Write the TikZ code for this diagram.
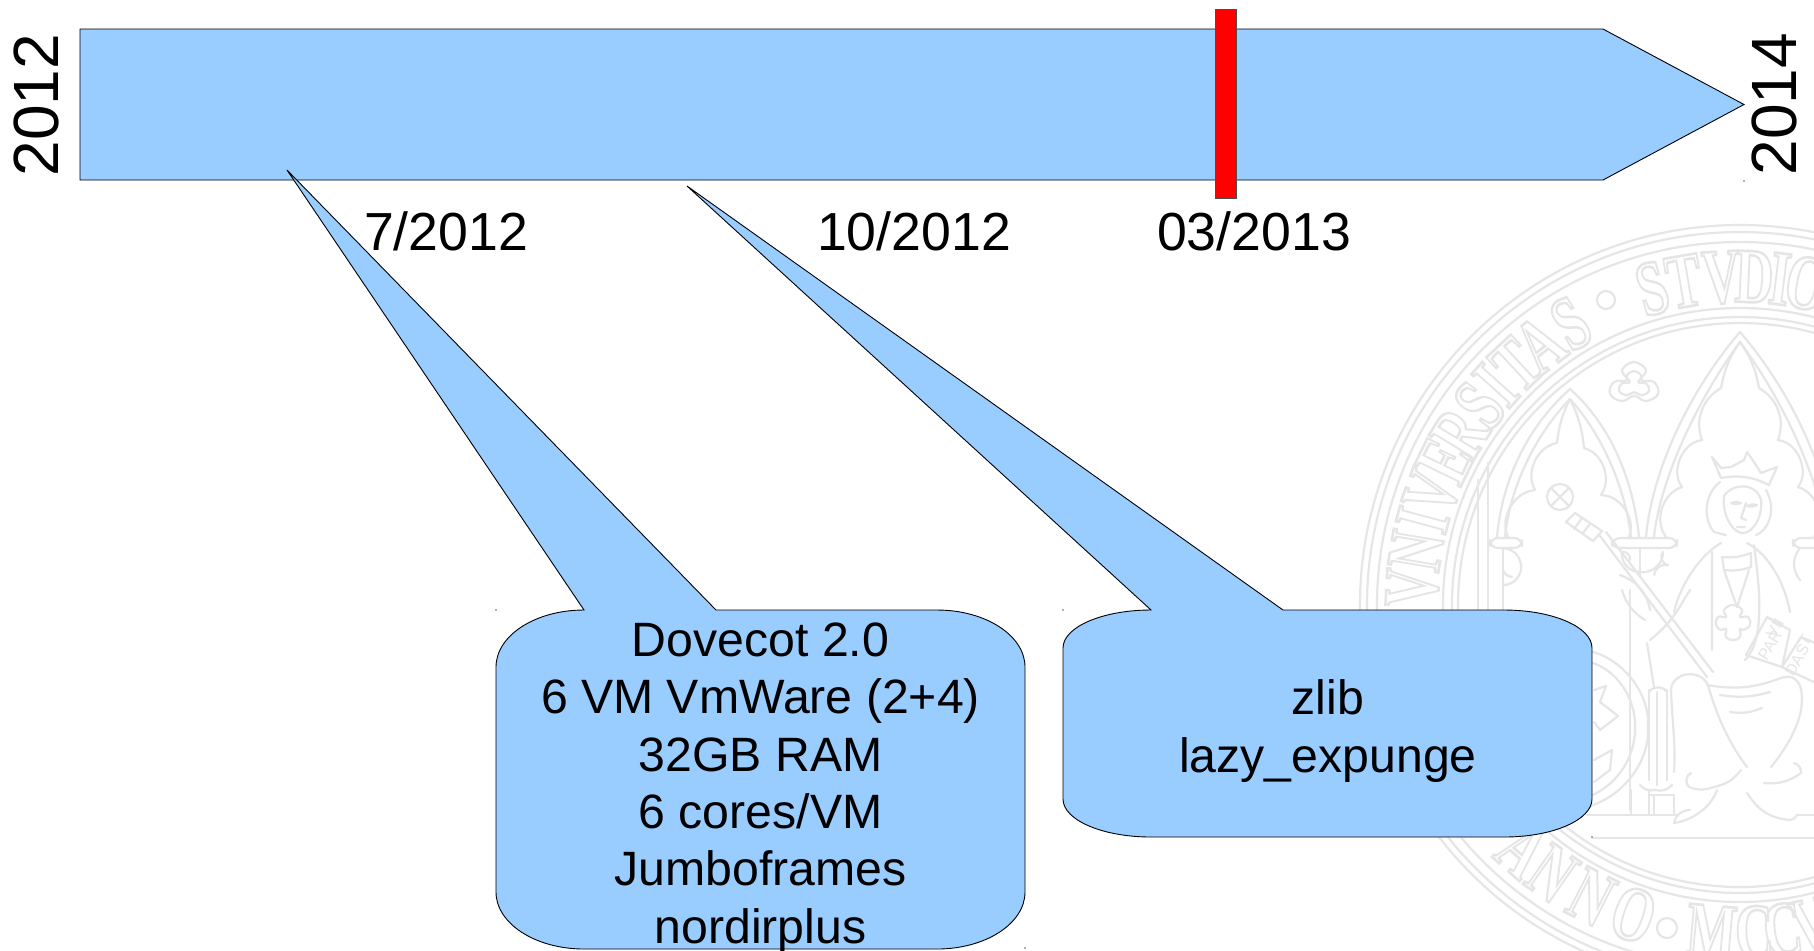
\documentclass[tikz,border=0pt]{standalone}
\usepackage{fontspec}
\usepackage{graphicx}
\setmainfont{Liberation Sans}
\newfontfamily\sealfont{Liberation Serif}
\usetikzlibrary{calc}
\definecolor{barblue}{HTML}{99CCFF}
\definecolor{sealgray}{HTML}{E6E6E6}
\newcommand{\sealglyph}[1]{\special{pdf:code 1 Tr 1.3 w 0.9 0.9 0.9 RG}\scalebox{0.68}[1]{\sealfont\bfseries\fontsize{39}{39}\selectfont #1}\special{pdf:code 0 Tr}}
\tikzset{
  shapefill/.style={fill=barblue,draw=black,line width=.45pt,line join=miter},
  redmark/.style={fill=red,draw=black!70,line width=.45pt},
  year/.style={font=\fontsize{32}{32}\selectfont,inner sep=0pt,rotate=90},
  datelabel/.style={font=\fontsize{26.8}{26.8}\selectfont,inner sep=0pt,anchor=base},
  boxtext/.style={font=\fontsize{24.1}{28.7}\selectfont,align=center,inner sep=0pt,anchor=base},
  seal/.style={draw=sealgray,line width=1.1pt,line cap=round,line join=round},
  sealletter/.style={inner sep=0pt,anchor=base},
  speck/.style={fill=black!60,draw=none}
}
\begin{document}
\begin{tikzpicture}[x=.5pt,y=-.5pt]
\useasboundingbox (0,0) rectangle (1814,950);
\fill[white] (0,0) rectangle (1814,950);
% ---------- seal watermark ----------
\begin{scope}
\clip (0,0) rectangle (1814,950);
\foreach \r in {380,373,363,297,288,282}
  \draw[seal] (1740,605) circle[radius=\r];
\foreach \c/\b [count=\i] in {V/-87,N/-80.5,I/-75,V/-70,E/-64,R/-58.5,S/-52.5,I/-48,T/-43,A/-37.5,S/-31,S/-15.5,T/-9.8,V/-3.3,D/2.5,I/7,O/11.7}
  \node[sealletter,rotate=-\b] (top\i) at ({1740+303*sin(\b)},{605-303*cos(\b)}) {\sealglyph{\c}};
\foreach \c/\b [count=\i] in {A/-41.6,N/-35,N/-27,O/-19,M/-5,C/2.5,C/7.5,V/12.5}
  \node[sealletter,rotate=\b] (bot\i) at ({1740+353*sin(\b)},{605+353*cos(\b)}) {\sealglyph{\c}};
\draw[seal] (1606,300) circle[radius=9] (1667,928) circle[radius=10];
% trefoil
\foreach \s in {1,.62}
  \draw[seal,shift={(1634,386)},scale=\s] plot[smooth cycle,tension=.7] coordinates {(0,-24)(-12,-16)(-7,-6)(-20,-4)(-24,8)(-12,15)(0,10)(12,15)(24,8)(20,-4)(7,-6)(12,-16)};
% arches (outer and inner lines)
\draw[seal] (1497,537) .. controls (1503,470) and (1535,420) .. (1570,389) .. controls (1605,420) and (1632,470) .. (1639,537);
\draw[seal] (1505,537) .. controls (1511,480) and (1540,430) .. (1570,399) .. controls (1598,430) and (1624,480) .. (1631,537);
\draw[seal] (1646,537) .. controls (1652,470) and (1690,390) .. (1740,332) .. controls (1790,390) and (1828,470) .. (1834,537);
\draw[seal] (1654,537) .. controls (1660,480) and (1697,400) .. (1740,342) .. controls (1783,400) and (1820,480) .. (1826,537);
% cusped tracery, left arch
\draw[seal] (1570,399) to[bend left=10] (1584,448) to[bend left=55] (1601,495) to[bend left=55] (1629,537);
\draw[seal] (1570,399) to[bend right=10] (1557,443) to[bend right=55] (1535,490) to[bend right=55] (1508,537);
% cusped tracery, right arch
\draw[seal] (1740,342) to[bend right=12] (1721,388) to[bend right=40] (1702,440) to[bend right=60] (1682,487) to[bend right=55] (1666,537);
\draw[seal] (1740,342) to[bend left=12] (1759,388) to[bend left=40] (1778,440) to[bend left=60] (1798,487) to[bend left=55] (1814,537);
% capitals
\draw[seal,rounded corners=4] (1612,538) rectangle (1677,548);
\draw[seal,rounded corners=4] (1490,538) rectangle (1522,548);
\draw[seal,rounded corners=4] (1793,538) rectangle (1830,548);
\draw[seal] (1640,548) -- (1640,575);
\draw[seal] (1640,572) to[bend left=50] (1622,552) to[bend left=60] (1630,560);
\draw[seal] (1640,572) to[bend right=50] (1663,552) to[bend right=70] (1668,565) to[bend right=50] (1654,575);
\draw[seal] (1503,548) to[bend left=40] (1521,565) to[bend left=50] (1503,585);
\draw[seal] (1503,570) to[bend right=30] (1512,577);
\draw[seal] (1800,548) to[bend right=40] (1800,580);
% pillars
\draw[seal] (1488,463) -- (1488,610) (1478,480) -- (1478,610) (1503,548) -- (1503,610);
\draw[seal] (1630,590) -- (1630,810);
% sceptre
\draw[seal] (1560,497) circle[radius=13];
\draw[seal] (1551,488) -- (1569,506) (1569,488) -- (1551,506);
\draw[seal] (1575,513) -- (1602,531) -- (1593,541) -- (1566,522) -- cycle;
\draw[seal] (1582,518) -- (1574,529) (1590,524) -- (1582,534);
\draw[seal] (1600,536) -- (1707,677) (1606,532) -- (1713,672);
\draw[seal] (1620,575) to[bend left=30] (1650,610) (1622,590) to[bend right=20] (1645,620);
% crown
\draw[seal] (1712,457) -- (1721,468) -- (1731,467) -- (1744,460) -- (1747,452) -- (1754,462) -- (1761,473) -- (1777,467) -- (1769,485) to[bend right=18] (1721,478) -- cycle;
% head and hair
\draw[seal] (1724,496) .. controls (1730,485) and (1755,480) .. (1761,500) .. controls (1763,520) and (1750,535) .. (1741,533) .. controls (1730,530) and (1722,512) .. (1724,496);
\draw[seal] (1720,482) .. controls (1708,490) and (1700,515) .. (1714,532) -- (1726,535);
\draw[seal] (1766,490) .. controls (1775,505) and (1772,528) .. (1756,535);
\draw[seal] (1731,503) to[bend left=20] (1741,503) to[bend left=20] (1731,503);
\draw[seal] (1747,506) to[bend left=20] (1757,505) to[bend left=20] (1747,506);
\draw[seal] (1746,503) -- (1741,518) -- (1746,520) (1737,527) -- (1745,527);
% collar, cloak and robe
\draw[seal] (1722,557) to[bend right=12] (1751,553) (1724,570) to[bend right=12] (1751,567);
\draw[seal] (1722,557) -- (1724,570) (1751,553) -- (1751,567);
\draw[seal] (1724,570) -- (1737,607) -- (1749,570);
\draw[seal] (1721,543) .. controls (1700,555) and (1680,585) .. (1674,612);
\draw[seal] (1747,543) .. controls (1770,555) and (1785,585) .. (1790,612);
\draw[seal] (1712,552) -- (1712,650) (1754,545) .. controls (1760,590) and (1765,640) .. (1745,660);
\draw[seal] (1650,640) .. controls (1675,620) and (1680,605) .. (1690,590);
\draw[seal] (1647,643) -- (1654,687);
% pendant
\draw[seal,shift={(1733,622)}] plot[smooth cycle,tension=.8] coordinates {(0,-17)(9,-12)(7,-5)(15,-5)(17,3)(10,8)(7,7)(7,15)(0,18)(-7,15)(-7,7)(-12,8)(-17,3)(-15,-5)(-7,-5)(-9,-12)};
% book
\draw[seal] (1746,655) -- (1767,617) -- (1790,630) -- (1782,667) -- cycle;
\draw[seal] (1782,667) -- (1801,637) -- (1820,645) -- (1820,685) -- cycle;
\node[text=sealgray,font=\fontsize{8}{9}\selectfont,rotate=60,inner sep=0pt] (bookvii) at (1775,628) {VII};
\node[text=sealgray,font=\fontsize{8}{9}\selectfont,rotate=60,inner sep=0pt] (bookpar) at (1770,645) {PAR};
\node[text=sealgray,font=\fontsize{8}{9}\selectfont,rotate=60,inner sep=0pt] (bookt) at (1805,640) {T};
\node[text=sealgray,font=\fontsize{8}{9}\selectfont,rotate=60,inner sep=0pt] (bookdas) at (1797,660) {DAS};
% knees and drapery
\draw[seal] (1671,690) .. controls (1672,672) and (1700,668) .. (1708,685) .. controls (1716,715) and (1730,745) .. (1747,767);
\draw[seal] (1671,690) .. controls (1672,720) and (1676,745) .. (1674,772);
\draw[seal] (1707,685) to[bend right=15] (1781,678);
\draw[seal] (1781,678) .. controls (1800,672) and (1804,690) .. (1801,710) .. controls (1797,730) and (1785,750) .. (1771,767);
\draw[seal] (1720,695) to[bend right=12] (1770,692) (1730,712) to[bend right=15] (1762,708);
\draw[seal] (1691,773) to[bend right=60] (1689,787) to[bend right=20] (1714,787) to[bend right=20] (1741,770);
\draw[seal] (1794,763) to[bend left=40] (1801,773) to[bend left=20] (1764,783);
\draw[seal] (1649,690) -- (1649,780) (1657,692) -- (1657,785) (1667,690) -- (1667,780);
\draw[seal] (1649,692) to[bend left=60] (1667,692);
\draw[seal] (1640,785) to[bend right=30] (1655,790) to[bend right=30] (1672,785);
% feet and base
\draw[seal] (1717,790) .. controls (1712,805) and (1695,820) .. (1674,823) to[bend left=40] (1690,810);
\draw[seal] (1747,793) .. controls (1755,805) and (1765,818) .. (1790,820) to[bend right=30] (1797,815);
\draw[seal] (1587,815) -- (1677,815) (1797,815) -- (1814,815);
\draw[seal] (1631,790) -- (1631,815) (1649,790) -- (1649,815) (1654,795) -- (1654,815) (1674,795) -- (1674,815) (1649,795) -- (1674,795);
\draw[seal] (1592,838) -- (1814,838);
% shield
\draw[seal] (1590,651) .. controls (1625,660) and (1650,695) .. (1648,727) .. controls (1650,760) and (1625,795) .. (1590,806);
\draw[seal] (1590,662) .. controls (1618,670) and (1636,700) .. (1635,727) .. controls (1636,755) and (1618,785) .. (1590,796);
\draw[seal] (1594,690) -- (1606,686) -- (1600,702) -- (1618,716) -- (1600,730) -- (1594,722);
\draw[seal] (1594,760) -- (1612,750) -- (1610,770) -- (1594,782);
\end{scope}
% ---------- time bar ----------
\draw[shapefill] (80,29) -- (1603,29) -- (1744,104.5) -- (1603,180) -- (80,180) -- cycle;
\draw[redmark] (1215.5,9) rectangle (1236.5,198);
% ---------- callouts ----------
\draw[shapefill] (584,610) -- (287,170) -- (716,610) -- (937,610)
  .. controls (985.6,610) and (1025,635.5) .. (1025,667) -- (1025,892)
  .. controls (1025,923.5) and (985.6,949) .. (937,949) -- (584,949)
  .. controls (535.4,949) and (496,923.5) .. (496,892) -- (496,667)
  .. controls (496,635.5) and (535.4,610) .. (584,610) -- cycle;
\draw[shapefill] (1151,610) -- (687,186) -- (1283,610) -- (1504,610)
  .. controls (1552.6,610) and (1592,627) .. (1592,648) -- (1592,799)
  .. controls (1592,820) and (1552.6,837) .. (1504,837) -- (1151,837)
  .. controls (1102.4,837) and (1063,820) .. (1063,799) -- (1063,648)
  .. controls (1063,627) and (1102.4,610) .. (1151,610) -- cycle;
% ---------- labels ----------
\node[year] (y2012) at (36.5,105) {2012};
\node[year] (y2014) at (1774,104) {2014};
\node[datelabel] (d1) at (446,250) {7/2012};
\node[datelabel] (d2) at (914,250) {10/2012};
\node[datelabel] (d3) at (1254,250) {03/2013};
\node[boxtext,anchor=center] (t1) at (760.5,788) {Dovecot 2.0\\6 VM VmWare (2+4)\\32GB RAM\\6 cores/VM\\Jumboframes\\nordirplus};
\node[boxtext,anchor=center] (t2) at (1328,731) {zlib\\lazy\_expunge};
% ---------- tiny marks ----------
\fill[speck] (496,610) circle[radius=.9] (1063,610) circle[radius=.9] (1592,837) circle[radius=.9] (1744,181) circle[radius=.9] (1025,948) circle[radius=.9];
\end{tikzpicture}
\end{document}
